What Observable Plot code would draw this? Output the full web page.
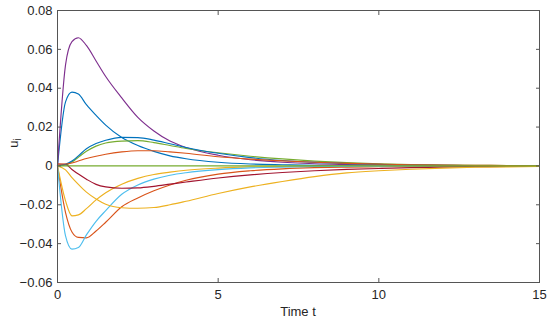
<!DOCTYPE html>
<html><head><meta charset="utf-8">
<script src="https://cdn.jsdelivr.net/npm/d3@7"></script>
<script src="https://cdn.jsdelivr.net/npm/@observablehq/plot@0.6"></script>
<style>body{margin:0;background:#fff} svg{display:block}</style>
</head><body><div id="chart"></div>
<script>
const t = [0, 0.25, 0.45, 0.65, 0.9, 1.2, 1.5, 2, 2.5, 3, 3.5, 4, 5, 6, 7, 8, 9, 10, 11, 12, 13, 14, 15];

const blue1   = [0, .033, .038, .037, .0315, .026, .021, .0146, .0105, .0075, .0052, .0037, .0019, .001, .0006, .0003, .0002, .0001, .00005, 0, 0, 0, 0];
const orange2 = [0, -.024, -.034, -.0368, -.037, -.0335, -.029, -.021, -.0165, -.0128, -.0098, -.0074, -.0042, -.0025, -.0015, -.0009, -.0006, -.0004, -.0002, -.0001, -.00005, 0, 0];
const yellow1 = [0, -.018, -.0257, -.0252, -.022, -.0175, -.0138, -.0094, -.0064, -.0044, -.0032, -.0022, -.0011, -.0005, -.0003, -.0002, -.0001, 0, 0, 0, 0, 0, 0];
const purple  = [0, .052, .064, .066, .062, .054, .046, .035, .025, .018, .0128, .0095, .0055, .0032, .0019, .0011, .0007, .0004, .00025, .00015, .0001, .00005, 0];
const green   = [0, .0005, .002, .0045, .0075, .0102, .0118, .0128, .013, .012, .0105, .009, .0068, .005, .0036, .0025, .0017, .0011, .0007, .0005, .0003, .0002, .0001];
const lightblue = [0, -.036, -.0428, -.042, -.0355, -.0285, -.023, -.0146, -.0098, -.0068, -.0048, -.0035, -.0019, -.001, -.0006, -.0003, -.0002, -.0001, 0, 0, 0, 0, 0];
const darkred = [.001, .0008, -.0018, -.0042, -.0068, -.0095, -.0108, -.0115, -.0113, -.0105, -.0094, -.0083, -.0062, -.0046, -.0034, -.0025, -.0018, -.0013, -.0009, -.0006, -.0004, -.0003, -.0002];
const blue2   = [0, .0008, .0025, .0052, .0088, .0115, .0132, .0147, .0146, .0133, .0114, .0095, .0065, .0043, .0028, .0018, .0012, .0008, .0005, .0003, .0002, .0001, 0];
const orange1 = [.001, .001, .0015, .0025, .0038, .005, .006, .0072, .0078, .0078, .0072, .0065, .0047, .0035, .0026, .0019, .0013, .0009, .0006, .0004, .0003, .0002, .0001];
const yellow2 = [0, -.002, -.006, -.0095, -.0135, -.017, -.0197, -.0215, -.0218, -.0214, -.0200, -.0182, -.0142, -.0108, -.008, -.0055, -.0036, -.0025, -.0017, -.0011, -.0007, -.0005, -.0003];
const flat    = [0, 0, 0, 0, 0, 0, 0, 0, 0, 0, 0, 0, 0, 0, 0, 0, 0, 0, 0, 0, 0, 0, 0];

const series = [
  {name: "u1", color: "#0072BD", values: blue1},
  {name: "u2", color: "#D95319", values: orange2},
  {name: "u3", color: "#EDB120", values: yellow1},
  {name: "u4", color: "#7E2F8E", values: purple},
  {name: "u5", color: "#77AC30", values: green},
  {name: "u6", color: "#4DBEEE", values: lightblue},
  {name: "u7", color: "#A2142F", values: darkred},
  {name: "u8", color: "#0072BD", values: blue2},
  {name: "u9", color: "#D95319", values: orange1},
  {name: "u10", color: "#EDB120", values: yellow2},
  {name: "u11", color: "#77AC30", values: flat}
];
const xTicks = [0, 5, 10, 15];
const yTicks = [-0.06, -0.04, -0.02, 0, 0.02, 0.04, 0.06, 0.08];
const xLabel = "Time t";
const yLabelMain = "u";
const yLabelSub = "i";

const rows = series.flatMap(s => s.values.map((v, i) => ({t: t[i], u: v, name: s.name, color: s.color})));
const fmtY = d => d === 0 ? "0" : (d < 0 ? "\u2212" : "") + Math.abs(d).toFixed(2);

const chart = Plot.plot({
  width: 550, height: 321,
  marginLeft: 57, marginRight: 11, marginTop: 10, marginBottom: 39,
  style: {fontFamily: "'Liberation Sans', Arial, sans-serif", fontSize: "13px", background: "#fff", color: "#262626"},
  x: {domain: [0, 15]},
  y: {domain: [-0.06, 0.08]},
  marks: [
    Plot.line(rows, {x: "t", y: "u", z: "name", stroke: "color", strokeWidth: 1.15, curve: "monotone-x"}),
    Plot.frame({stroke: "#555", strokeWidth: 1}),
    Plot.axisX({ticks: xTicks, anchor: "bottom", tickSize: -4, tickPadding: 11, tickFormat: d => String(d), stroke: "#555", fill: "#262626", label: null}),
    Plot.axisX({ticks: xTicks, anchor: "top", tickSize: -4, tickFormat: () => "", stroke: "#555", label: null}),
    Plot.axisY({ticks: yTicks, anchor: "left", tickSize: -4, tickPadding: 9, tickFormat: fmtY, stroke: "#555", fill: "#262626", label: null}),
    Plot.axisY({ticks: yTicks, anchor: "right", tickSize: -4, tickFormat: () => "", stroke: "#555", label: null})
  ]
});
document.getElementById("chart").appendChild(chart);

const svg = d3.select(chart);
const xr = chart.scale("x").range, yr = chart.scale("y").range;
svg.append("text")
  .attr("x", (xr[0] + xr[1]) / 2).attr("y", 316)
  .attr("text-anchor", "middle").attr("fill", "#262626")
  .style("font-size", "13px")
  .text(xLabel);
const yl = svg.append("text")
  .attr("transform", `translate(17.5,${(yr[0] + yr[1]) / 2 - 3}) rotate(-90)`)
  .attr("text-anchor", "middle").attr("fill", "#262626")
  .style("font-size", "13px");
yl.append("tspan").text(yLabelMain);
yl.append("tspan").attr("dy", 3).style("font-size", "10px").text(yLabelSub);
</script>
</body></html>
